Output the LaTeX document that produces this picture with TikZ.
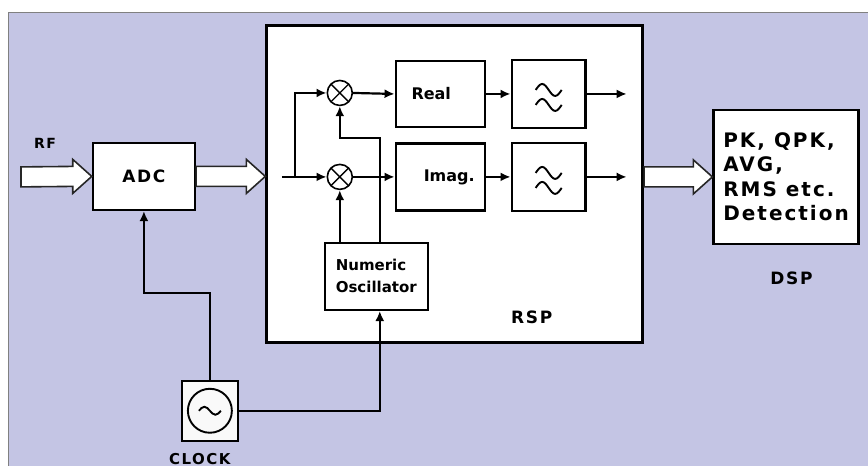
\documentclass[tikz,border=0pt]{standalone}
\usepackage{fontspec}
\setmainfont{DejaVu Sans}
\usetikzlibrary{arrows.meta,calc}
\definecolor{bglav}{RGB}{196,197,228}
\tikzset{
  blk/.style={draw, line width=2.4pt, fill=white, inner sep=0pt},
  mixer/.style={circle, draw, line width=1.6pt, fill=white, minimum size=25, inner sep=0pt,
    path picture={\draw[line width=1.4pt] (path picture bounding box.north west) -- (path picture bounding box.south east)
      (path picture bounding box.north east) -- (path picture bounding box.south west);}},
  wire/.style={line width=2.2pt},
  sig/.style={wire, -{Latex[length=10pt,width=9pt]}},
  fatarr/.style={draw=black!85, line width=1.6pt, fill=white, line join=miter},
  wave/.style={line width=1.9pt},
  lbl/.style={font=\fontsize{#1}{#1}\selectfont\bfseries\addfontfeature{LetterSpace=10}},
  lbl/.default=17,
  inner/.style={font=\fontsize{15}{22}\selectfont\bfseries},
}
% hollow block arrow from #1 to #2
\newcommand{\fatarrow}[2]{\draw[fatarr] ($(#1)+(0,-10)$) -- ($(#2)+(-19,-10)$) -- ($(#2)+(-19,-17)$)
  -- (#2) -- ($(#2)+(-19,17)$) -- ($(#2)+(-19,10)$) -- ($(#1)+(0,10)$) -- cycle;}
% filter symbol inside node #1
\newcommand{\filtsym}[1]{%
  \draw[wave] ([shift={(-13,-4)}]#1.center) sin ++(6.5,-6) cos ++(6.5,6) sin ++(6.5,6) cos ++(6.5,-6);
  \draw[wave] ([shift={(-13,11)}]#1.center) sin ++(6.5,-6) cos ++(6.5,6) sin ++(6.5,6) cos ++(6.5,-6);}
\begin{document}
\begin{tikzpicture}[x=1pt,y=-1pt]
  % background
  \fill[white] (0,0) rectangle (868,466);
  \fill[bglav] (9,13) rectangle (868,466);
  \draw[gray,line width=1pt] (9,466) -- (9,13) -- (868,13);
  \useasboundingbox (0,0) rectangle (868,466);

  % blocks
  \node[blk, line width=3pt, minimum width=376, minimum height=317] (rsp) at (455,184.5) {};
  \node[blk, minimum width=102, minimum height=67, lbl] (adc) at (144,176.5) {ADC};
  \node[blk, minimum width=145, minimum height=134, align=left,
        font=\fontsize{20}{24.5}\selectfont\bfseries\addfontfeature{LetterSpace=10}] (dsp) at (786.5,177)
        {PK, QPK,\\AVG,\\RMS etc.\\Detection};
  \node[blk, minimum width=89, minimum height=66, inner, font=\fontsize{16}{16}\selectfont\bfseries] (real) at (440.5,94) {\hspace*{-18pt}Real};
  \node[blk, minimum width=89, minimum height=67, inner, font=\fontsize{16}{16}\selectfont\bfseries] (imag) at (440.5,177) {Imag.\hspace*{-18pt}};
  \node[blk, minimum width=74, minimum height=68] (filtA) at (549,94) {};
  \node[blk, minimum width=74, minimum height=68] (filtB) at (549,177) {};
  \node[blk, minimum width=103, minimum height=67, inner, align=left] (nco) at (376.5,276.5) {Numeric\\Oscillator};
  \node[blk, line width=1.8pt, fill=white!95!gray, minimum width=56, minimum height=60] (clk) at (210,411) {};
  \node[mixer] (mixA) at (340,93) {};
  \node[mixer] (mixB) at (340,177) {};
  \filtsym{filtA}
  \filtsym{filtB}

  % clock symbol
  \draw[wave] (clk.center) circle[radius=22];
  \draw[wave] ([shift={(-11,0)}]clk.center) sin ++(5.5,-4) cos ++(5.5,4) sin ++(5.5,4) cos ++(5.5,-4);

  % labels
  \node[lbl=14] (rflbl) at (45,143) {RF};
  \node[lbl] (rsplbl) at (532,317) {RSP};
  \node[lbl] (dsplbl) at (792,278) {DSP};
  \node[lbl=15] (clklbl) at (200,459) {CLOCK};

  % block arrows
  \coordinate (rfin) at (21,177);
  \fatarrow{rfin}{adc.west}
  \fatarrow{adc.east}{rsp.west |- adc.east}
  \fatarrow{rsp.east |- dsp.west}{dsp.west}

  % signal paths inside RSP
  \coordinate (rspin) at (282,177);
  \coordinate (split) at (295,177);
  \coordinate (tap) at (380,138);
  \coordinate (outA) at (627,94);
  \coordinate (outB) at (627,177);
  \draw[sig] (rspin) -- (mixB.west);
  \draw[sig] (split) |- (mixA.west);
  \draw[sig] (mixA.east) -- (real.west);
  \draw[sig] (mixB.east) -- (imag.west);
  \draw[sig] (real.east) -- (filtA.west);
  \draw[sig] (imag.east) -- (filtB.west);
  \draw[sig] (filtA.east) -- (outA);
  \draw[sig] (filtB.east) -- (outB);
  \draw[sig] (mixB.south |- nco.north) -- (mixB.south);
  \draw[sig] (nco.north -| tap) -- (tap) -| (mixA.south);

  % clock distribution
  \coordinate (kink) at (144,293);
  \draw[sig] (clk.north) |- (kink) -- (adc.south);
  \draw[sig] (clk.east) -| (nco.south -| tap);
\end{tikzpicture}
\end{document}
